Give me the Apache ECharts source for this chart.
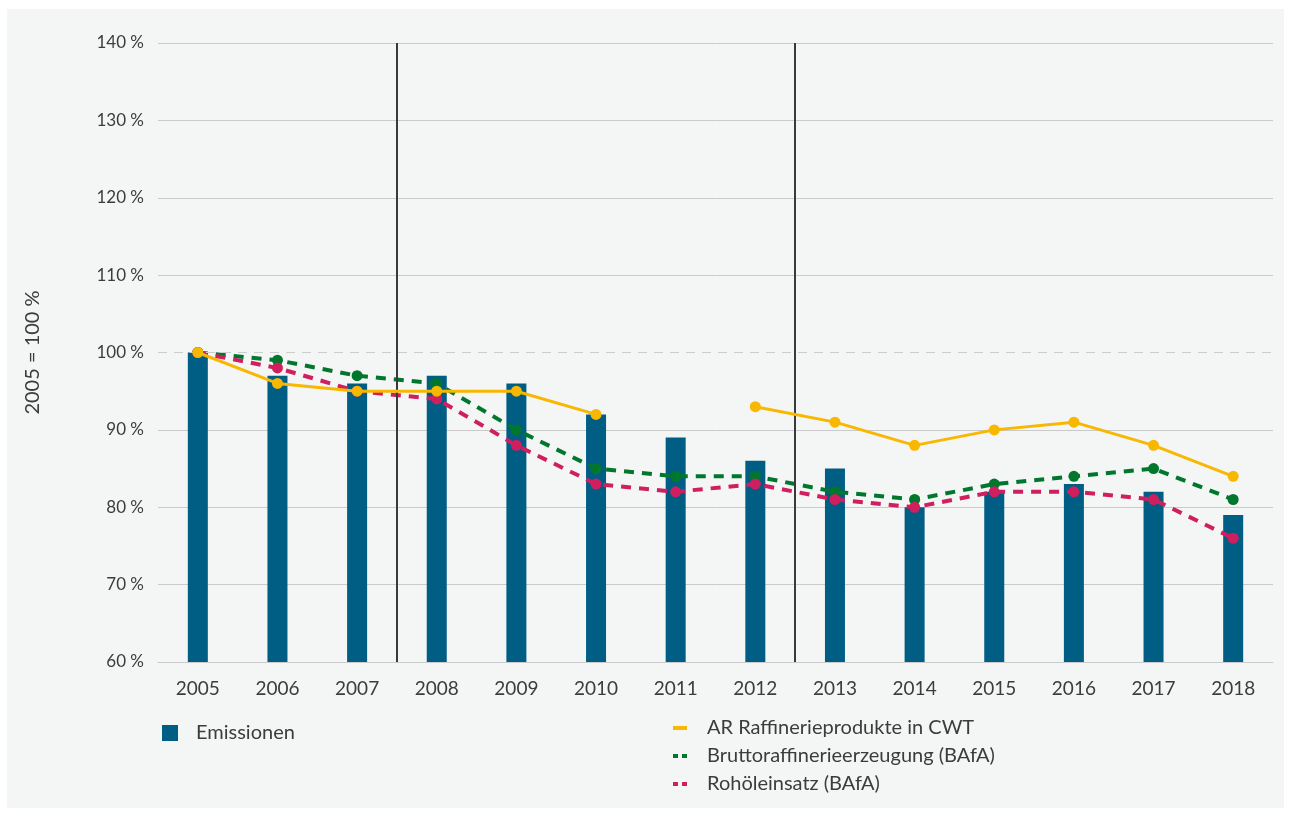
<!DOCTYPE html>
<html>
<head>
<meta charset="utf-8">
<script src="https://cdn.jsdelivr.net/npm/echarts@6/dist/echarts.min.js"></script>
<style>
  html, body { margin: 0; padding: 0; background: #ffffff; }
  #wrap { position: relative; width: 1291px; height: 822px; }
  #panel { position: absolute; left: 7px; top: 9px; width: 1277px; height: 799px; background: #f4f5f5; }
  #chart { position: absolute; left: 0; top: 0; width: 1291px; height: 822px; }
</style>
</head>
<body>
<div id="wrap">
  <div id="panel"></div>
  <div id="chart"></div>
</div>
<script>
// Years on the category axis
const years = ['2005', '2006', '2007', '2008', '2009', '2010', '2011', '2012', '2013', '2014', '2015', '2016', '2017', '2018'];

// Indexed values, 2005 = 100 %
const emissionen = [100, 97, 96, 97, 96, 92, 89, 86, 85, 80, 82, 83, 82, 79];
const arCwt = [100, 96, 95, 95, 95, 92, null, 93, 91, 88, 90, 91, 88, 84];
const brutto = [100, 99, 97, 96, 90, 85, 84, 84, 82, 81, 83, 84, 85, 81];
const rohoel = [100, 98, 95, 94, 88, 83, 82, 83, 81, 80, 82, 82, 81, 76];

// Positions (between categories) of the period separators
const periodBreaks = [2.5, 7.5];

const FONT = 'Lato, "Open Sans", sans-serif';
const TEXT = '#3c3c3c';
const GRID = '#cacaca';

const chart = echarts.init(document.getElementById('chart'), null, { renderer: 'canvas' });

const yMin = 60, yMax = 140, yStep = 10;
// hide the regular split line at 100 %, a dashed reference line is drawn there instead
const splitColors = [];
for (let v = yMin; v <= yMax; v += yStep) splitColors.push(v === 100 ? 'rgba(0,0,0,0)' : GRID);

const dotIcon = 'path://M0,0h5v4h-5zM9,0h5v4h-5z';

chart.setOption({
  backgroundColor: 'transparent',
  animation: false,
  textStyle: { fontFamily: FONT },
  grid: { left: 158, right: 18, top: 43, bottom: 160 },
  legend: [
    {
      left: 157, top: 718,
      itemWidth: 16, itemHeight: 16, itemGap: 10,
      textStyle: { fontFamily: FONT, fontSize: 20, color: TEXT, padding: [0, 0, 0, 13] },
      data: [{ name: 'Emissionen', icon: 'rect' }]
    },
    {
      left: 668, top: 713, orient: 'vertical',
      itemWidth: 14, itemHeight: 4, itemGap: 8,
      textStyle: { fontFamily: FONT, fontSize: 20, color: TEXT, padding: [0, 0, 0, 15] },
      data: [
        { name: 'AR Raffinerieprodukte in CWT', icon: 'rect' },
        { name: 'Bruttoraffinerieerzeugung (BAfA)', icon: dotIcon },
        { name: 'Rohöleinsatz (BAfA)', icon: dotIcon }
      ]
    }
  ],
  xAxis: [
    {
      type: 'category',
      data: years,
      boundaryGap: true,
      axisLine: { show: true, lineStyle: { color: GRID, width: 1 } },
      axisTick: { show: false },
      axisLabel: { color: TEXT, fontSize: 19, margin: 17, fontFamily: FONT }
    },
    {
      type: 'value', min: -0.5, max: 13.5, show: false
    }
  ],
  yAxis: {
    type: 'value',
    min: yMin, max: yMax, interval: yStep,
    name: '2005 = 100 %',
    nameLocation: 'middle',
    nameRotate: 90,
    nameGap: 115,
    nameTextStyle: { color: TEXT, fontSize: 20, fontFamily: FONT },
    axisLine: { show: false },
    axisTick: { show: false },
    axisLabel: { color: TEXT, fontSize: 17, margin: 14, formatter: '{value} %', fontFamily: FONT },
    splitLine: { show: true, lineStyle: { color: splitColors, width: 1 } }
  },
  series: [
    {
      name: 'Emissionen',
      type: 'bar',
      data: emissionen,
      barWidth: 20,
      itemStyle: { color: '#005d84' },
      z: 2,
      markLine: {
        silent: true,
        symbol: 'none',
        label: { show: false },
        lineStyle: { color: '#cdcdcd', type: [9, 7], width: 1 },
        data: [{ yAxis: 100 }]
      }
    },
    {
      name: 'Bruttoraffinerieerzeugung (BAfA)',
      type: 'line',
      data: brutto,
      symbol: 'circle', symbolSize: 11,
      itemStyle: { color: '#00772d' },
      lineStyle: { color: '#00772d', width: 4, type: [10, 8] },
      z: 3
    },
    {
      name: 'Rohöleinsatz (BAfA)',
      type: 'line',
      data: rohoel,
      symbol: 'circle', symbolSize: 11,
      itemStyle: { color: '#d01f5f' },
      lineStyle: { color: '#d01f5f', width: 4, type: [10, 8] },
      z: 4
    },
    {
      name: 'AR Raffinerieprodukte in CWT',
      type: 'line',
      data: arCwt,
      connectNulls: false,
      symbol: 'circle', symbolSize: 11,
      itemStyle: { color: '#f8b700' },
      lineStyle: { color: '#f8b700', width: 3 },
      z: 5
    },
    {
      name: 'Periodengrenzen',
      type: 'line',
      xAxisIndex: 1,
      data: [],
      z: 6,
      markLine: {
        silent: true,
        symbol: 'none',
        label: { show: false },
        lineStyle: { color: '#3a3a3a', type: 'solid', width: 2 },
        data: periodBreaks.map(function (x) { return { xAxis: x }; })
      }
    }
  ]
});
</script>
</body>
</html>
